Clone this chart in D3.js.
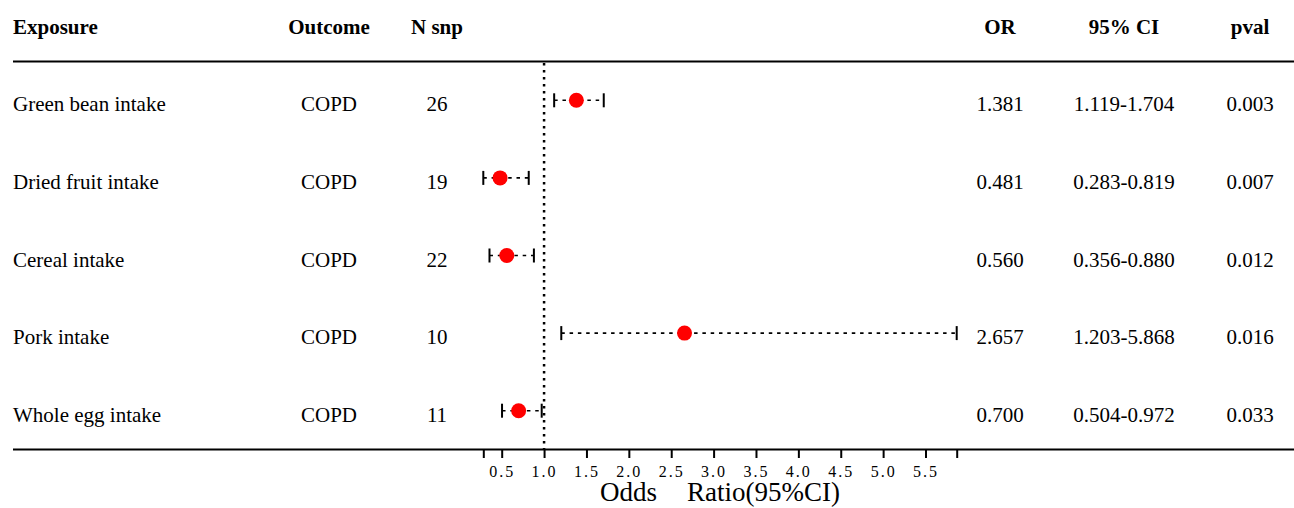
<!DOCTYPE html>
<html>
<head>
<meta charset="utf-8">
<script src="https://cdn.jsdelivr.net/npm/d3@7/dist/d3.min.js"></script>
<style>
  html, body { margin: 0; padding: 0; background: #fff; }
  svg { display: block; }
  text { font-family: "Liberation Serif", "Times New Roman", serif; fill: #000; }
</style>
</head>
<body>
<svg id="chart" width="1294" height="508"></svg>
<script>
// Forest plot: dietary exposures vs COPD (Mendelian randomisation results)
const exposures = ["Green bean intake", "Dried fruit intake", "Cereal intake", "Pork intake", "Whole egg intake"];
const outcomes  = ["COPD", "COPD", "COPD", "COPD", "COPD"];
const nSnp      = [26, 19, 22, 10, 11];
const orValues  = [1.381, 0.481, 0.560, 2.657, 0.700];
const ciLower   = [1.119, 0.283, 0.356, 1.203, 0.504];
const ciUpper   = [1.704, 0.819, 0.880, 5.868, 0.972];
const pValues   = ["0.003", "0.007", "0.012", "0.016", "0.033"];
const headers   = ["Exposure", "Outcome", "N snp", "OR", "95% CI", "pval"];
const tickLabels = [0.5, 1.0, 1.5, 2.0, 2.5, 3.0, 3.5, 4.0, 4.5, 5.0, 5.5];
const refValue  = 1;

const svg = d3.select("#chart");

const lo = d3.min(ciLower), hi = d3.max(ciUpper);
const x = d3.scaleLinear().domain([lo, hi]).range([483.3, 956.7]);
const y = d3.scaleBand().domain(d3.range(exposures.length)).range([61.5, 449.5]);
const yc = i => y(i) + y.bandwidth() / 2;

const tableLeft = 13, tableRight = 1294;
const col = { outcome: 329, nsnp: 437, or: 1000, ci: 1124, pval: 1250 };

// Header row
const hdr = svg.append("g").attr("font-weight", "bold").attr("font-size", 21);
hdr.append("text").attr("x", tableLeft).attr("y", 34).text(headers[0]);
[["outcome", 1], ["nsnp", 2], ["or", 3], ["ci", 4], ["pval", 5]].forEach(([k, h]) => {
  hdr.append("text").attr("x", col[k]).attr("y", 34).attr("text-anchor", "middle").text(headers[h]);
});

// Rules above and below the body
svg.append("line").attr("x1", tableLeft).attr("x2", tableRight).attr("y1", 61.5).attr("y2", 61.5)
  .attr("stroke", "#000").attr("stroke-width", 2);

// Reference line at OR = 1
svg.append("line").attr("x1", x(refValue)).attr("x2", x(refValue)).attr("y1", 63).attr("y2", 449)
  .attr("stroke", "#000").attr("stroke-width", 2.5).attr("stroke-dasharray", "2.5,4.5");

// Body text
const body = svg.append("g").attr("font-size", 21);
exposures.forEach((e, i) => {
  const by = yc(i) + 11;
  body.append("text").attr("x", tableLeft).attr("y", by).text(e);
  body.append("text").attr("x", col.outcome).attr("y", by).attr("text-anchor", "middle").text(outcomes[i]);
  body.append("text").attr("x", col.nsnp).attr("y", by).attr("text-anchor", "middle").text(nSnp[i]);
  body.append("text").attr("x", col.or).attr("y", by).attr("text-anchor", "middle").text(orValues[i].toFixed(3));
  body.append("text").attr("x", col.ci).attr("y", by).attr("text-anchor", "middle")
    .text(ciLower[i].toFixed(3) + "-" + ciUpper[i].toFixed(3));
  body.append("text").attr("x", col.pval).attr("y", by).attr("text-anchor", "middle").text(pValues[i]);
});

// Confidence intervals and point estimates
const marks = svg.append("g");
orValues.forEach((v, i) => {
  const cy = yc(i);
  marks.append("line").attr("x1", x(ciLower[i])).attr("x2", x(ciUpper[i])).attr("y1", cy).attr("y2", cy)
    .attr("stroke", "#000").attr("stroke-width", 1.6).attr("stroke-dasharray", "3.5,4.8");
  [ciLower[i], ciUpper[i]].forEach(c => {
    marks.append("line").attr("x1", x(c)).attr("x2", x(c)).attr("y1", cy - 7).attr("y2", cy + 7)
      .attr("stroke", "#000").attr("stroke-width", 2);
  });
  marks.append("circle").attr("cx", x(v)).attr("cy", cy).attr("r", 7.5).attr("fill", "#ff0000");
});

// Bottom rule doubling as the x axis line
svg.append("line").attr("x1", tableLeft).attr("x2", tableRight).attr("y1", 449.5).attr("y2", 449.5)
  .attr("stroke", "#000").attr("stroke-width", 2);

const axis = d3.axisBottom(x)
  .tickValues([lo].concat(tickLabels, [hi]))
  .tickFormat(d => tickLabels.includes(d) ? d.toFixed(1) : "")
  .tickSize(8)
  .tickSizeOuter(0)
  .tickPadding(10);

const gx = svg.append("g").attr("transform", "translate(0,450)").call(axis);
gx.select(".domain").remove();
gx.selectAll(".tick line").attr("stroke", "#000").attr("stroke-width", 2);
gx.selectAll(".tick text")
  .attr("font-family", "'Liberation Serif', serif")
  .attr("font-size", 16)
  .attr("letter-spacing", "2px")
  .attr("fill", "#333")
  .attr("dy", null)
  .attr("y", 26.5);

// Axis title
const title = svg.append("text").attr("x", (x.range()[0] + x.range()[1]) / 2).attr("y", 501)
  .attr("text-anchor", "middle").attr("font-size", 27);
title.append("tspan").text("Odds");
title.append("tspan").attr("dx", 30).text("Ratio(95%CI)");
</script>
</body>
</html>
